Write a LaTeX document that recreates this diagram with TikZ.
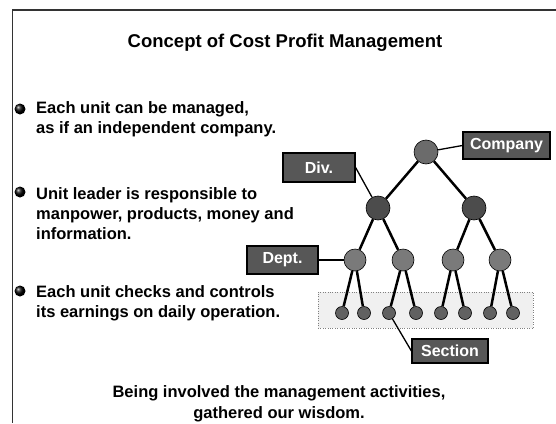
\documentclass[tikz,border=0pt]{standalone}
\usepackage{fontspec}
\setmainfont{Liberation Sans}
\usetikzlibrary{shadings}

\begin{document}
\begin{tikzpicture}[x=1pt, y=-1pt,
  unit/.style={circle, draw=black, line width=0.6pt, inner sep=0pt},
    counit/.style={unit, fill=black!58, minimum size=24pt},
    dvunit/.style={unit, fill=black!70, minimum size=24pt},
    dpunit/.style={unit, fill=black!52, minimum size=22pt},
    scunit/.style={unit, fill=black!62, minimum size=13pt},
  tag/.style={draw=black, line width=1.2pt, fill=black!66, text=white, inner sep=0pt, font=\bfseries\fontsize{16}{16}\selectfont},
  txt/.style={align=left, inner sep=0pt, font=\bfseries\fontsize{16.5}{20}\selectfont},
  bul/.style={circle, inner sep=0pt, minimum size=11pt, shading=ball, ball color=black},
  edge/.style={line width=2.5pt},
  pointer/.style={line width=1.3pt}
]
\useasboundingbox (0,0) rectangle (556,423);
% frame of the slide
\draw[line width=1.2pt, black!80] (556,10) -- (12.5,10) -- (12.5,423);
\node[font=\bfseries\fontsize{18.5}{18.5}\selectfont, anchor=base] (title) at (285,47) {Concept of Cost Profit Management};

% bullet points (base = last line)
\node[bul] (b1) at (20,109) {};
\node[bul] (b2) at (20,192) {};
\node[bul] (b3) at (20,291) {};
\node[txt, anchor=base west] (t1) at (36,133) {Each unit can be managed,\\as if an independent company.};
\node[txt, anchor=base west] (t2) at (36,239) {Unit leader is responsible to\\manpower, products, money and\\information.};
\node[txt, anchor=base west] (t3) at (36,317) {Each unit checks and controls\\its earnings on daily operation.};

% organisation tree
\node[draw=black!50, dotted, fill=black!6, minimum width=215pt, minimum height=36pt] (grp) at (425.5,310) {};
\node[counit] (co) at (426,152) {};
\node[dvunit] (dv1) at (378,208) {};
\node[dvunit] (dv2) at (474,208) {};
\foreach \x [count=\i] in {355,403,453,500}
  \node[dpunit] (dp\i) at (\x,260) {};
\foreach \x [count=\i] in {342,364,389,416,441,465,490,513}
  \node[scunit] (sc\i) at (\x,313) {};
\foreach \a/\b in {co/dv1,co/dv2,dv1/dp1,dv1/dp2,dv2/dp3,dv2/dp4,
                   dp1/sc1,dp1/sc2,dp2/sc3,dp2/sc4,dp3/sc5,dp3/sc6,dp4/sc7,dp4/sc8}
  {\draw[edge] (\a) -- (\b);}

% labels
\node[tag, minimum width=87pt, minimum height=27pt] (lco) at (506.5,145.5) {Company};
\node[tag, minimum width=72pt, minimum height=29pt] (ldv) at (319,167.5) {Div.};
\node[tag, minimum width=71pt, minimum height=28pt] (ldp) at (282.5,260) {Dept.};
\node[tag, minimum width=76pt, minimum height=24pt] (lsc) at (450,351) {Section};
\draw[pointer] (co) -- (lco.west);
\draw[pointer] (ldv.east) -- (dv1);
\draw[pointer] (ldp.east) -- (dp1);
\draw[pointer] (lsc.west) -- (sc3);

\node[align=center, inner sep=0pt, font=\bfseries\fontsize{16.5}{21}\selectfont, anchor=base] (foot) at (279,418) {Being involved the management activities,\\gathered our wisdom.};
\end{tikzpicture}
\end{document}
